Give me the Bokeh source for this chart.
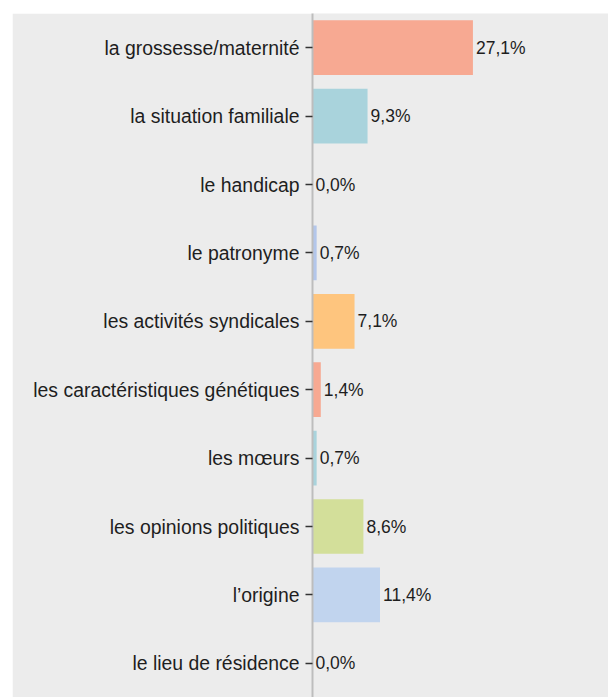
from bokeh.plotting import figure
from bokeh.models import ColumnDataSource, Range1d, FixedTicker
from bokeh.core.properties import value
from bokeh.embed import file_html
from bokeh.resources import INLINE

categories = [
    "la grossesse/maternité",
    "la situation familiale",
    "le handicap",
    "le patronyme",
    "les activités syndicales",
    "les caractéristiques génétiques",
    "les mœurs",
    "les opinions politiques",
    "l\u2019origine",
    "le lieu de résidence",
]
values = [27.1, 9.3, 0.0, 0.7, 7.1, 1.4, 0.7, 8.6, 11.4, 0.0]
colors = ["#f7a992", "#a9d3dc", "#d3df9a", "#b3c6ea", "#fec57e",
          "#f7a992", "#a9d3dc", "#d3df9a", "#c1d4ee", "#fec57e"]
value_labels = [f"{v:.1f}%".replace(".", ",") for v in values]

positions = list(range(len(categories)))
FONT = "Liberation Sans"
BG = "#ececec"

src = ColumnDataSource(dict(y=positions, v=values, c=colors, lab=value_labels))

p = figure(width=596, height=684,
           x_range=Range1d(0, 50), y_range=Range1d(9.5, -0.5),
           output_backend="svg", toolbar_location=None,
           x_axis_location=None,
           min_border_left=300, min_border_right=0,
           min_border_top=0, min_border_bottom=0)
p.styles = {"margin-left": "12px", "margin-top": "13px"}
p.background_fill_color = BG
p.border_fill_color = BG
p.outline_line_color = None
p.grid.visible = False

p.hbar(y="y", left=0, right="v", height=0.8, fill_color="c",
       line_color=None, source=src)
p.text(x="v", y="y", text="lab", x_offset=3, text_baseline="middle",
       text_align="left", text_font=value(FONT), text_font_size="17.5px",
       text_color="#1e1e1e", source=src)

ax = p.yaxis[0]
ax.ticker = FixedTicker(ticks=positions)
ax.major_label_overrides = {i: c for i, c in zip(positions, categories)}
ax.minor_tick_line_color = None
ax.axis_line_color = "#bdbdbd"
ax.axis_line_width = 2
ax.major_tick_line_color = "#333333"
ax.major_tick_line_width = 1.5
ax.major_tick_out = 7
ax.major_tick_in = 0
ax.major_label_standoff = 6
ax.major_label_text_font = FONT
ax.major_label_text_font_size = "19.4px"
ax.major_label_text_color = "#1e1e1e"

open("out.html", "w").write(file_html(p, INLINE))
